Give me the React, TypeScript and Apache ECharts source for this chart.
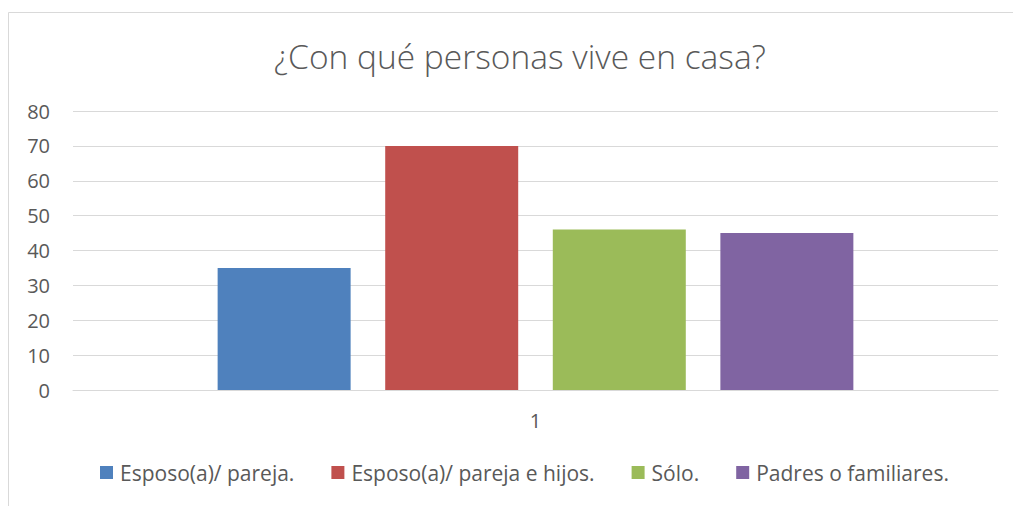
import React, { useEffect, useRef } from "react";
import * as echarts from "echarts";

const titleText = "¿Con qué personas vive en casa?";
const categories = ["1"];
const seriesNames = [
  "Esposo(a)/ pareja.",
  "Esposo(a)/ pareja e hijos.",
  "Sólo.",
  "Padres o familiares.",
];
const esposoPareja = [35];
const esposoParejaHijos = [70];
const solo = [46];
const padresFamiliares = [45];
const seriesValues = [esposoPareja, esposoParejaHijos, solo, padresFamiliares];
const colors = ["#4f81bd", "#c0504d", "#9bbb59", "#8064a2"];

const FONT = "'Open Sans', sans-serif";

export default function App() {
  const ref = useRef<HTMLDivElement>(null);
  useEffect(() => {
    if (!ref.current) return;
    const chart = echarts.init(ref.current, undefined, { renderer: "svg" });
    chart.setOption({
      animation: false,
      backgroundColor: "#ffffff",
      textStyle: { fontFamily: FONT },
      graphic: [
        {
          type: "rect",
          shape: { x: 8.5, y: 12.5, width: 1100, height: 600 },
          style: { fill: "none", stroke: "#d9d9d9", lineWidth: 1 },
          silent: true,
        },
      ],
      title: {
        text: titleText,
        left: 269,
        top: 34,
        textStyle: {
          fontFamily: FONT,
          fontSize: 33.5,
          fontWeight: 300,
          color: "#595959",
        },
      },
      legend: {
        bottom: 18,
        left: 95,
        itemWidth: 13,
        itemHeight: 13,
        itemGap: 37,
        icon: "rect",
        textStyle: { fontFamily: FONT, fontSize: 21, color: "#595959", padding: [0, 0, 0, 2] },
        data: seriesNames,
      },
      grid: { left: 73, right: 15, top: 111, bottom: 116 },
      xAxis: {
        type: "category",
        data: categories,
        axisLine: { lineStyle: { color: "#d9d9d9" } },
        axisTick: { show: false },
        axisLabel: { fontFamily: FONT, fontSize: 20, color: "#595959", margin: 20 },
      },
      yAxis: {
        type: "value",
        min: 0,
        max: 80,
        interval: 10,
        axisLine: { show: false },
        axisTick: { show: false },
        splitLine: { lineStyle: { color: "#d9d9d9", width: 1 } },
        axisLabel: { fontFamily: FONT, fontSize: 20, color: "#595959", margin: 23 },
      },
      series: seriesNames.map((name, i) => ({
        name,
        type: "bar",
        data: seriesValues[i],
        barWidth: 133,
        barGap: "26%",
        itemStyle: { color: colors[i] },
      })),
    });
    return () => chart.dispose();
  }, []);
  return (
    <div
      ref={ref}
      style={{ position: "fixed", left: 0, top: 0, width: 1013, height: 506 }}
    />
  );
}
